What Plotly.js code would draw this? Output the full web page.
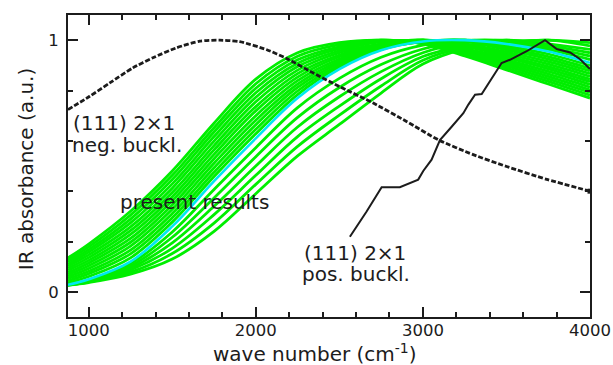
<!DOCTYPE html>
<html>
<head>
<meta charset="utf-8">
<script src="https://cdn.plot.ly/plotly-3.0.1.min.js"></script>
<style>
  html, body { margin: 0; padding: 0; background: #ffffff; }
  #chart { width: 613px; height: 365px; }
</style>
</head>
<body>
<div id="chart"></div>
<script>
// Wave-number grid shared by the computed spectra (cm^-1)
const waveNumbers = [876, 1000, 1250, 1500, 1750, 2000, 2250, 2500, 2750, 3000, 3250, 3500, 3750, 4000];

// Present results: normalised IR absorbance of each computed configuration
const run01 = [0.135, 0.190, 0.320, 0.480, 0.670, 0.845, 0.950, 0.990, 1.000, 0.985, 0.937, 0.882, 0.826, 0.770];
const run02 = [0.127, 0.179, 0.305, 0.463, 0.652, 0.827, 0.936, 0.982, 1.000, 0.986, 0.942, 0.890, 0.836, 0.781];
const run03 = [0.119, 0.168, 0.289, 0.446, 0.635, 0.809, 0.922, 0.974, 1.000, 0.987, 0.947, 0.898, 0.846, 0.792];
const run04 = [0.110, 0.158, 0.274, 0.429, 0.617, 0.791, 0.908, 0.966, 0.996, 0.990, 0.952, 0.906, 0.856, 0.802];
const run05 = [0.102, 0.147, 0.258, 0.412, 0.599, 0.773, 0.895, 0.958, 0.993, 0.995, 0.956, 0.914, 0.866, 0.813];
const run06 = [0.094, 0.136, 0.243, 0.395, 0.581, 0.755, 0.881, 0.950, 0.985, 1.000, 0.961, 0.922, 0.876, 0.824];
const run07 = [0.086, 0.125, 0.228, 0.378, 0.564, 0.736, 0.867, 0.941, 0.982, 1.000, 0.966, 0.930, 0.886, 0.835];
const run08 = [0.077, 0.115, 0.212, 0.362, 0.546, 0.719, 0.853, 0.934, 0.978, 1.000, 0.975, 0.937, 0.895, 0.845];
const run09 = [0.069, 0.104, 0.197, 0.345, 0.529, 0.700, 0.839, 0.925, 0.975, 1.000, 0.980, 0.945, 0.905, 0.856];
const run10 = [0.061, 0.093, 0.182, 0.328, 0.511, 0.682, 0.825, 0.917, 0.972, 1.000, 0.985, 0.953, 0.915, 0.867];
const run11 = [0.053, 0.082, 0.166, 0.311, 0.493, 0.664, 0.812, 0.909, 0.969, 0.995, 0.995, 0.961, 0.925, 0.878];
const run12 = [0.044, 0.072, 0.151, 0.294, 0.475, 0.646, 0.798, 0.901, 0.966, 0.994, 1.000, 0.969, 0.935, 0.888];
const run13 = [0.036, 0.061, 0.135, 0.277, 0.458, 0.628, 0.784, 0.893, 0.963, 0.994, 1.000, 0.977, 0.945, 0.899];
const run14 = [0.028, 0.048, 0.112, 0.238, 0.407, 0.573, 0.732, 0.848, 0.932, 0.980, 1.000, 0.990, 0.963, 0.923];
const run15 = [0.028, 0.046, 0.103, 0.217, 0.373, 0.537, 0.693, 0.812, 0.903, 0.965, 0.997, 0.997, 0.970, 0.937];
const run16 = [0.028, 0.044, 0.095, 0.195, 0.340, 0.500, 0.655, 0.775, 0.875, 0.950, 0.990, 1.000, 0.978, 0.950];
const run17 = [0.027, 0.041, 0.087, 0.173, 0.307, 0.463, 0.617, 0.738, 0.847, 0.935, 0.977, 1.000, 0.985, 0.963];
const run18 = [0.027, 0.039, 0.078, 0.152, 0.273, 0.427, 0.578, 0.702, 0.818, 0.920, 0.971, 0.990, 1.000, 0.977];
const run19 = [0.027, 0.037, 0.070, 0.130, 0.240, 0.390, 0.540, 0.665, 0.790, 0.905, 0.965, 0.992, 1.000, 0.990];
// Highlighted configuration (cyan)
const runHighlight = [0.028, 0.050, 0.120, 0.260, 0.440, 0.610, 0.770, 0.885, 0.960, 0.995, 1.000, 0.985, 0.955, 0.910];

const presentRuns = [run01, run02, run03, run04, run05, run06, run07, run08, run09, run10,
                     run11, run12, run13, run14, run15, run16, run17, run18, run19];

// (111) 2x1 reconstruction, negative buckling (dashed)
const negBucklX = [876, 1006, 1126, 1264, 1384, 1527, 1665, 1784, 1904, 2066, 2185, 2343, 2503, 2703, 2902, 3092, 3301, 3501, 3741, 4000];
const negBucklY = [0.724, 0.777, 0.830, 0.890, 0.930, 0.970, 0.996, 1.000, 0.994, 0.962, 0.927, 0.870, 0.815, 0.750, 0.677, 0.604, 0.545, 0.498, 0.447, 0.400];

// (111) 2x1 reconstruction, positive buckling (solid)
const posBucklX = [2563, 2663, 2753, 2862, 2972, 3002, 3052, 3082, 3102, 3172, 3242, 3272, 3312, 3352, 3382, 3431, 3471, 3521, 3621, 3731, 3801, 3881, 3941, 4000];
const posBucklY = [0.219, 0.319, 0.416, 0.416, 0.446, 0.480, 0.525, 0.576, 0.603, 0.656, 0.710, 0.744, 0.783, 0.786, 0.817, 0.864, 0.909, 0.922, 0.956, 1.000, 0.965, 0.951, 0.924, 0.885];

const GREEN = '#00ee00';
const CYAN = '#00e8f0';
const INK = '#1c1c1c';
const FONT = 'DejaVu Sans, Verdana, sans-serif';

const traces = [];
presentRuns.forEach(function (ys) {
  traces.push({
    x: waveNumbers, y: ys, type: 'scatter', mode: 'lines',
    line: { color: GREEN, width: 2.8, shape: 'spline', smoothing: 1 },
    hoverinfo: 'skip'
  });
});
traces.push({
  x: waveNumbers, y: runHighlight, type: 'scatter', mode: 'lines',
  line: { color: CYAN, width: 2.6, shape: 'spline', smoothing: 1 },
  hoverinfo: 'skip'
});
traces.push({
  x: negBucklX, y: negBucklY, type: 'scatter', mode: 'lines',
  line: { color: INK, width: 2.8, dash: '5px,2px', shape: 'spline', smoothing: 0.6 },
  hoverinfo: 'skip'
});
// end point of the dashed curve
traces.push({
  x: negBucklX.slice(-1), y: negBucklY.slice(-1), type: 'scatter', mode: 'markers',
  marker: { symbol: 'square', color: INK, size: 5 },
  hoverinfo: 'skip'
});
traces.push({
  x: posBucklX, y: posBucklY, type: 'scatter', mode: 'lines',
  line: { color: INK, width: 2 },
  hoverinfo: 'skip'
});

function label(text, x, y) {
  return {
    text: text, x: x, y: y, xref: 'x', yref: 'y',
    xanchor: 'left', yanchor: 'middle', showarrow: false,
    font: { family: FONT, size: 20, color: INK }
  };
}

const axisCommon = {
  showgrid: false, zeroline: false,
  showline: true, linecolor: INK, linewidth: 2,
  mirror: 'ticks', ticks: 'inside', ticklen: 10, tickwidth: 2, tickcolor: INK,
  tickfont: { family: FONT, size: 16.5, color: INK }
};

const layout = {
  width: 613, height: 365,
  margin: { l: 68, r: 23, t: 15, b: 48 },
  paper_bgcolor: '#ffffff', plot_bgcolor: '#ffffff',
  showlegend: false,
  font: { family: FONT, color: INK },
  xaxis: Object.assign({}, axisCommon, {
    range: [876, 4000], tickmode: 'linear', tick0: 0, dtick: 1000,
    ticklabelstandoff: -3,
    minor: { ticks: 'inside', tickmode: 'linear', tick0: 0, dtick: 200, ticklen: 5, tickwidth: 2, tickcolor: INK, showgrid: false }
  }),
  yaxis: Object.assign({}, axisCommon, {
    range: [-0.1, 1.1], tickmode: 'linear', tick0: 0, dtick: 1,
    ticklabelstandoff: 4,
    minor: { ticks: 'inside', tickmode: 'linear', tick0: 0, dtick: 0.2, ticklen: 5, tickwidth: 2, tickcolor: INK, showgrid: false }
  }),
  annotations: [
    // axis titles
    {
      text: 'wave number (cm<sup>-1</sup>)', xref: 'paper', yref: 'paper', x: 0.473, y: -0.118,
      xanchor: 'center', yanchor: 'middle', showarrow: false, borderpad: 0,
      font: { family: FONT, size: 20, color: INK }
    },
    {
      text: 'IR absorbance (a.u.)', xref: 'paper', yref: 'paper', x: -0.08, y: 0.49,
      xanchor: 'center', yanchor: 'middle', textangle: -90, showarrow: false, borderpad: 0,
      font: { family: FONT, size: 20, color: INK }
    },
    label('(111) 2×1', 892, 0.671),
    label('neg. buckl.', 888, 0.583),
    label('present results', 1174, 0.358),
    label('(111) 2×1', 2275, 0.155),
    label('pos. buckl.', 2263, 0.071)
  ]
};

Plotly.newPlot('chart', traces, layout, { displayModeBar: false, staticPlot: true });
</script>
</body>
</html>
